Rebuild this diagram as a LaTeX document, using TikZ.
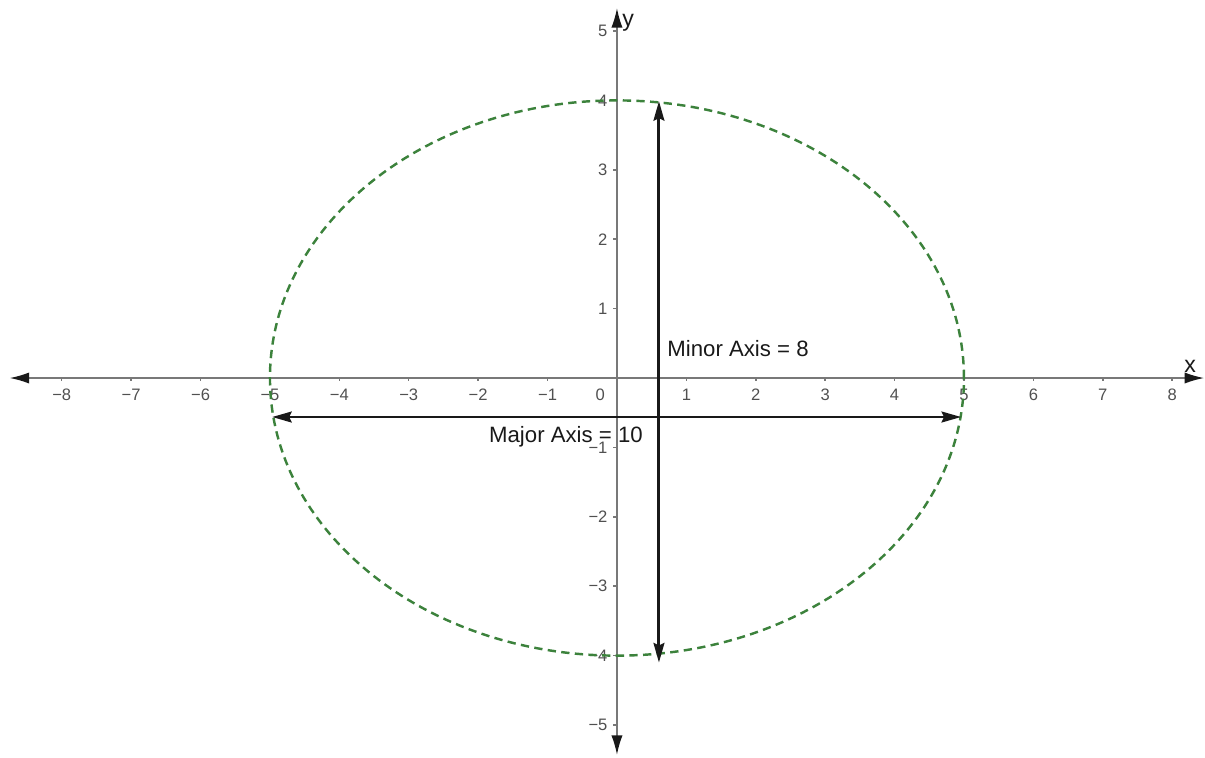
\documentclass[tikz,border=0pt]{standalone}
\usepackage{fontspec}
\setmainfont{Liberation Sans}
\usetikzlibrary{arrows.meta}
\definecolor{axisgray}{RGB}{120,120,120}
\definecolor{ticklab}{RGB}{80,80,80}
\definecolor{ellgreen}{RGB}{60,130,60}
\definecolor{arrblack}{RGB}{25,25,25}
\newcommand{\mylab}[1]{\ifnum#1<0 −\number-#1\else#1\fi}
\begin{document}
\begin{tikzpicture}[
  axisline/.style={draw=axisgray, line width=0.6pt, -{Latex[length=8pt,width=4.6pt,color=arrblack]}},
  ticklabel/.style={font=\fontsize{6.8}{8}\selectfont, text=ticklab, inner sep=0pt},
  mainlabel/.style={font=\fontsize{9.1}{11}\selectfont, text=arrblack, inner sep=0pt},
  axislabel/.style={font=\fontsize{9.5}{11}\selectfont, text=arrblack, inner sep=0pt},
  dimarrow/.style={draw=arrblack, line width=1.2pt, {Stealth[length=8pt,width=4.4pt,inset=1pt]}-{Stealth[length=8pt,width=4.4pt,inset=1pt]}},
  ellipsestyle/.style={draw=ellgreen, line width=1pt, dash pattern=on 3.4pt off 2.2pt}
]
\useasboundingbox (-8.89,-5.461) rectangle (8.473,5.447);
% axes
\coordinate (O) at (0,0);
\coordinate (xl) at (-8.75,0);
\coordinate (xr) at (8.46,0);
\coordinate (yt) at (0,5.33);
\coordinate (yb) at (0,-5.43);
\draw[axisline] (O) -- (xr);
\draw[axisline] (O) -- (xl);
\draw[axisline] (O) -- (yt);
\draw[axisline] (O) -- (yb);
% x ticks and labels
\foreach \i in {-8,-7,-6,-5,-4,-3,-2,-1,1,2,3,4,5,6,7,8} {
  \draw[axisgray, line width=0.6pt] (\i,0) -- (\i,-0.05);
  \node[ticklabel] (xt\i) at (\i,-0.24) {\mylab{\i}};
}
\node[ticklabel] (xt0) at (-0.24,-0.24) {0};
% y ticks and labels
\foreach \j in {-5,-4,-3,-2,-1,1,2,3,4,5} {
  \draw[axisgray, line width=0.6pt] (0,\j) -- (-0.05,\j);
  \node[ticklabel, anchor=east] (yt\j) at (-0.13,\j) {\mylab{\j}};
}
\node[axislabel] (xlab) at (8.26,0.17) {x};
\node[axislabel] (ylab) at (0.16,5.12) {y};
% ellipse
\draw[ellipsestyle] (O) ellipse [x radius=5, y radius=4];
% major / minor axes
\coordinate (majL) at (-4.97,-0.562);
\coordinate (majR) at (4.96,-0.562);
\coordinate (minT) at (0.605,3.99);
\coordinate (minB) at (0.605,-4.1);
\draw[dimarrow] (majL) -- (majR);
\draw[dimarrow] (minB) -- (minT);
\node[mainlabel, anchor=west] (minlab) at (0.72,0.43) {Minor Axis = 8};
\node[mainlabel] (majlab) at (-0.735,-0.85) {Major Axis = 10};
\end{tikzpicture}
\end{document}
